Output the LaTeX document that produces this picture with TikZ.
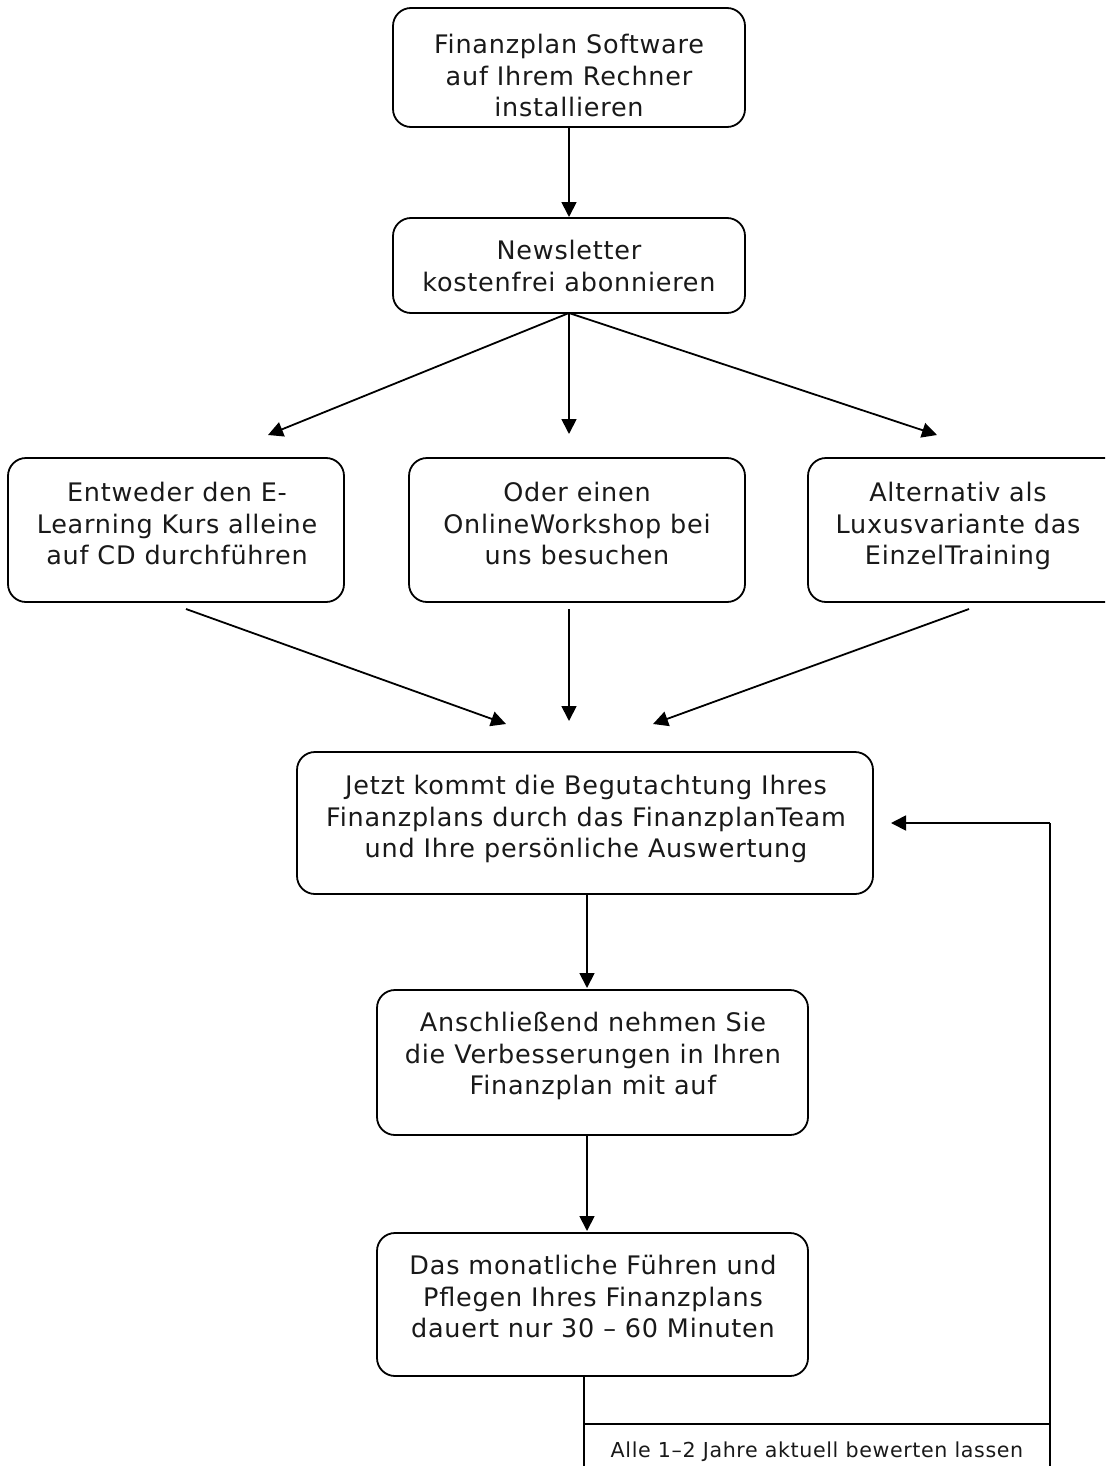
\documentclass[tikz,border=0pt]{standalone}
\usepackage{fontspec}
\setmainfont{DejaVu Sans}[LetterSpace=3]
\usetikzlibrary{arrows.meta}
\begin{document}
\begin{tikzpicture}[x=1pt,y=-1pt,
  box/.style={draw, line width=1.8pt, rounded corners=18pt, inner sep=0pt},
  txt/.style={align=center, inner sep=0pt, anchor=north,
    font=\fontsize{25.5}{31.5}\selectfont, text=black!90},
  arr/.style={line width=1.8pt, -{Triangle[length=15pt,width=15pt]}},
  ln/.style={line width=1.8pt}]
\useasboundingbox (0,0) rectangle (1105,1466);
\clip (0,0) rectangle (1105,1466);
% boxes
\node[box, minimum width=352pt, minimum height=119pt] (b1) at (569,67.5) {};
\node[box, minimum width=352pt, minimum height=95pt] (b2) at (569,265.5) {};
\node[box, minimum width=336pt, minimum height=144pt] (b3a) at (176,530) {};
\node[box, minimum width=336pt, minimum height=144pt] (b3b) at (577,530) {};
\node[box, minimum width=336pt, minimum height=144pt] (b3c) at (976,530) {};
\node[box, minimum width=576pt, minimum height=142pt] (b4) at (585,823) {};
\node[box, minimum width=431pt, minimum height=145pt] (b5) at (592.5,1062.5) {};
\node[box, minimum width=431pt, minimum height=143pt] (b6) at (592.5,1304.5) {};
% texts
\node[txt] (t1) at (569,34) {Finanzplan Software\\auf Ihrem Rechner\\installieren};
\node[txt] (t2) at (569,240) {Newsletter\\kostenfrei abonnieren};
\node[txt] (t3a) at (177,482) {Entweder den E-\\Learning Kurs alleine\\auf CD durchführen};
\node[txt] (t3b) at (577,482) {Oder einen\\OnlineWorkshop bei\\uns besuchen};
\node[txt] (t3c) at (958,482) {Alternativ als\\Luxusvariante das\\EinzelTraining};
\node[txt] (t4) at (586,775) {Jetzt kommt die Begutachtung Ihres\\Finanzplans durch das FinanzplanTeam\\und Ihre persönliche Auswertung};
\node[txt] (t5) at (593,1012) {Anschließend nehmen Sie\\die Verbesserungen in Ihren\\Finanzplan mit auf};
\node[txt] (t6) at (593,1255) {Das monatliche Führen und\\Pflegen Ihres Finanzplans\\dauert nur 30 – 60 Minuten};
% arrows
\coordinate (e2) at (569,217);
\draw[arr] (b1.south) -- (e2);
\coordinate (s2) at (569,313);
\coordinate (ta) at (268,435);
\coordinate (tb) at (569,434);
\coordinate (tc) at (937,435);
\draw[arr] (s2) -- (ta);
\draw[arr] (s2) -- (tb);
\draw[arr] (s2) -- (tc);
\coordinate (sa) at (186,609);
\coordinate (sb) at (569,609);
\coordinate (sc) at (969,609);
\coordinate (ua) at (506,724);
\coordinate (ub) at (569,721);
\coordinate (uc) at (653,724);
\draw[arr] (sa) -- (ua);
\draw[arr] (sb) -- (ub);
\draw[arr] (sc) -- (uc);
\coordinate (s4) at (587,894);
\coordinate (e5) at (587,988);
\draw[arr] (s4) -- (e5);
\coordinate (s5) at (587,1135);
\coordinate (e6) at (587,1231);
\draw[arr] (s5) -- (e6);
% feedback loop
\coordinate (s6) at (584,1376);
\coordinate (lb) at (584,1500);
\coordinate (lh) at (584,1424);
\coordinate (rh) at (1050,1424);
\coordinate (rb) at (1050,1500);
\coordinate (rt) at (1050,823);
\coordinate (e4) at (891,823);
\draw[ln] (s6) -- (lb);
\draw[ln] (lh) -- (rh);
\draw[ln] (rb) -- (rt);
\draw[arr] (rt) -- (e4);
\node[font=\fontsize{20.6}{24}\selectfont, text=black!90, inner sep=0pt, anchor=base] (lbl) at (817,1457) {Alle 1–2 Jahre aktuell bewerten lassen};
\end{tikzpicture}
\end{document}
